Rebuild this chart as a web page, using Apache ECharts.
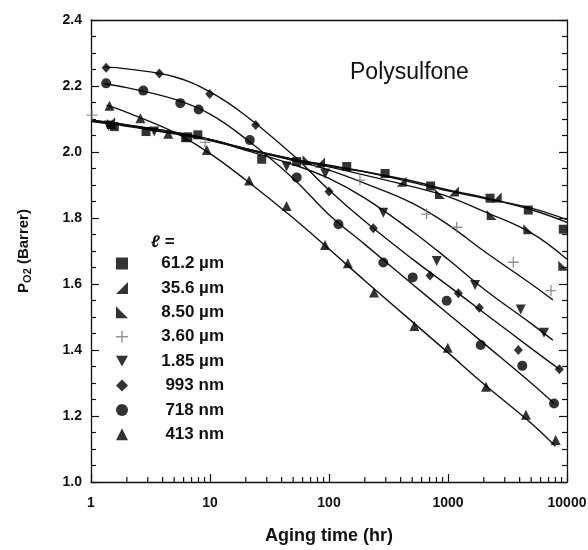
<!DOCTYPE html>
<html>
<head>
  <meta charset="UTF-8">
  <title>Polysulfone aging</title>
  <script src="https://cdn.jsdelivr.net/npm/echarts@6/dist/echarts.min.js"></script>
</head>
<body style="margin:0;background:#fff;">
<div id="main" style="width:588px;height:550px;"></div>
<script type="text/javascript">
  // 图例名称
  var names = ['61.2 µm', '35.6 µm', '8.50 µm', '3.60 µm', '1.85 µm', '993 nm', '718 nm', '413 nm'];

  // 实验点 [时间(hr), P_O2]
  var pts612 = [[1.57,2.077],[2.9,2.062],[6.5,2.046],[7.9,2.052],[27.2,1.978],[53.5,1.971],[141,1.956],[296,1.935],[715,1.897],[2255,1.860],[4730,1.824],[9310,1.766]];
  var pts356 = [[1.45,2.09],[84,1.968],[408,1.910],[1122,1.880],[2566,1.862]];
  var pts850 = [[1.5,2.085],[6.3,2.045],[66,1.975],[857,1.873],[2330,1.809],[4730,1.766],[9310,1.655]];
  var pts360 = [[1.02,2.112],[9.1,2.029],[182,1.915],[661,1.812],[1183,1.772],[3540,1.666],[7340,1.580]];
  var pts185 = [[1.4,2.08],[3.4,2.062],[44,1.956],[93,1.935],[286,1.816],[804,1.670],[1686,1.597],[4080,1.523],[6410,1.452]];
  var pts993 = [[1.34,2.255],[3.75,2.238],[9.94,2.176],[24.2,2.082],[100,1.880],[236,1.769],[706,1.626],[1222,1.572],[1832,1.528],[3900,1.400],[8620,1.342]];
  var pts718 = [[1.34,2.208],[2.75,2.186],[5.63,2.148],[8.03,2.129],[21.6,2.036],[53.5,1.923],[120,1.781],[286,1.665],[505,1.620],[975,1.549],[1883,1.415],[4210,1.352],[7780,1.238]];
  var pts413 = [[1.43,2.14],[2.6,2.102],[4.46,2.055],[9.4,2.006],[21.3,1.914],[44,1.836],[92.6,1.718],[144,1.663],[239,1.574],[521,1.473],[995,1.407],[2085,1.289],[4520,1.204],[8035,1.127]];

  // 拟合曲线
  var fit612 = [[1,2.092],[2,2.078],[5,2.055],[10,2.035],[20,2.008],[50,1.975],[100,1.957],[200,1.94],[500,1.912],[1000,1.885],[2000,1.862],[5000,1.825],[10000,1.787]];
  var fit356 = [[1,2.095],[2,2.08],[5,2.058],[10,2.037],[20,2.01],[50,1.978],[100,1.96],[200,1.94],[500,1.908],[1000,1.882],[2000,1.86],[5000,1.83],[10000,1.795]];
  var fit850 = [[1,2.095],[2,2.08],[5,2.058],[10,2.037],[20,2.01],[50,1.978],[100,1.955],[200,1.93],[500,1.895],[1000,1.865],[2000,1.82],[5000,1.755],[10000,1.675]];
  var fit360 = [[1,2.097],[2,2.082],[5,2.06],[10,2.038],[20,2.01],[50,1.975],[100,1.945],[200,1.905],[500,1.845],[1000,1.78],[2000,1.70],[5000,1.60],[7600,1.552]];
  var fit185 = [[1,2.097],[2,2.082],[5,2.06],[10,2.038],[20,2.005],[50,1.962],[100,1.92],[200,1.86],[500,1.76],[1000,1.675],[2000,1.585],[5000,1.48],[7600,1.43]];
  var fit993 = [[1.3,2.258],[2,2.252],[5,2.228],[10,2.182],[20,2.11],[50,1.99],[100,1.885],[200,1.79],[500,1.676],[1000,1.595],[2000,1.513],[5000,1.405],[8600,1.342]];
  var fit718 = [[1.3,2.207],[2,2.195],[5,2.16],[10,2.115],[20,2.04],[50,1.92],[100,1.81],[200,1.72],[500,1.60],[1000,1.51],[2000,1.42],[5000,1.30],[7780,1.238]];
  var fit413 = [[1.35,2.142],[2,2.12],[5,2.06],[10,1.995],[20,1.915],[50,1.80],[100,1.706],[200,1.61],[500,1.486],[1000,1.392],[2000,1.297],[5000,1.178],[8000,1.108]];

  // x 轴对数小刻度
  var xMinorTicks = [2,3,4,5,6,7,8,9,20,30,40,50,60,70,80,90,200,300,400,500,600,700,800,900,2000,3000,4000,5000,6000,7000,8000,9000];

  var allPts = [pts612, pts356, pts850, pts360, pts185, pts993, pts718, pts413];
  var allFits = [fit612, fit356, fit850, fit360, fit185, fit993, fit718, fit413];

  var symbols = [
    'rect',
    'path://M10,0 L10,10 L0,10 Z',
    'path://M0,0 L0,10 L10,10 Z',
    'path://M4.4,0 L5.6,0 L5.6,4.4 L10,4.4 L10,5.6 L5.6,5.6 L5.6,10 L4.4,10 L4.4,5.6 L0,5.6 L0,4.4 L4.4,4.4 Z',
    'path://M0,0 L10,0 L5,9 Z',
    'diamond',
    'circle',
    'triangle'
  ];
  var sizes = [9, 10, 10, 11, 10, [9, 10], 10, 10];
  var colors = ['#000', '#000', '#000', '#777', '#000', '#000', '#000', '#000'];

  var font = 'Liberation Sans, Arial, sans-serif';

  var series = [];
  for (var i = 0; i < 8; i++) {
    series.push({
      name: names[i] + '_fit',
      type: 'line',
      data: allFits[i],
      smooth: 0.4,
      showSymbol: false,
      silent: true,
      lineStyle: { color: '#111', width: 1.4 },
      z: 2
    });
    series.push({
      name: names[i],
      type: 'scatter',
      data: allPts[i],
      symbol: symbols[i],
      symbolSize: sizes[i],
      itemStyle: { color: colors[i] },
      z: 3
    });
  }

  // 对数轴小刻度用 custom 画
  series.push({
    type: 'custom',
    name: 'minorTicks',
    silent: true,
    clip: false,
    xAxisIndex: 0,
    yAxisIndex: 0,
    data: xMinorTicks.map(function (t) { return [t, 1.0]; }),
    renderItem: function (params, api) {
      var p = api.coord([api.value(0), api.value(1)]);
      return {
        type: 'line',
        shape: { x1: p[0], y1: p[1], x2: p[0], y2: p[1] - 5 },
        style: { stroke: '#111', lineWidth: 1.2, fill: null }
      };
    },
    z: 4
  });

  var myChart = echarts.init(document.getElementById('main'));
  var option = {
    animation: false,
    title: [{
      text: 'Polysulfone',
      left: 345,
      top: 56,
      textStyle: { fontFamily: font, fontSize: 23, fontWeight: 'normal', color: '#111' }
    }, {
      text: 'ℓ =',
      left: 146,
      top: 229,
      textStyle: { fontFamily: font, fontSize: 17, fontWeight: 'bold', fontStyle: 'italic', color: '#111' }
    }],
    legend: {
      data: names,
      orient: 'vertical',
      left: 111,
      top: 250,
      itemWidth: 12,
      itemHeight: 12,
      itemGap: 7.4,
      selectedMode: false,
      formatter: function (n) { return '{a|' + n + '}'; },
      textStyle: {
        rich: {
          a: { width: 91, align: 'right', fontFamily: font, fontSize: 17, fontWeight: 'bold', color: '#111' }
        }
      }
    },
    grid: { left: 91, right: 21, top: 20, bottom: 68, outerBoundsMode: 'none' },
    xAxis: [{
      type: 'log',
      logBase: 10,
      min: 1,
      max: 10000,
      name: 'Aging time (hr)',
      nameLocation: 'middle',
      nameGap: 45,
      nameTextStyle: { fontFamily: font, fontSize: 18, fontWeight: 'bold', color: '#111' },
      axisLine: { show: true, lineStyle: { color: '#111', width: 1.3 } },
      axisTick: { show: true, inside: true, length: 8, lineStyle: { color: '#111', width: 1.2 } },
      axisLabel: {
        fontFamily: font, fontSize: 14, fontWeight: 'bold', color: '#111', margin: 14,
        formatter: function (v) { return String(Math.round(v)); }
      },
      splitLine: { show: false }
    }, {
      type: 'log',
      logBase: 10,
      min: 1,
      max: 10000,
      position: 'top',
      axisLine: { show: true, lineStyle: { color: '#111', width: 1.3 } },
      axisTick: { show: false },
      axisLabel: { show: false },
      splitLine: { show: false }
    }],
    yAxis: [{
      type: 'value',
      min: 1.0,
      max: 2.4,
      interval: 0.2,
      name: '{p|P}{s|O2}{p| (Barrer)}',
      nameLocation: 'middle',
      nameGap: 58,
      nameRotate: 90,
      nameTextStyle: {
        rich: {
          p: { fontFamily: font, fontSize: 15, fontWeight: 'bold', color: '#111' },
          s: { fontFamily: font, fontSize: 11, fontWeight: 'bold', color: '#111', padding: [8, 0, 0, 0] }
        }
      },
      axisLine: { show: true, lineStyle: { color: '#111', width: 1.3 } },
      axisTick: { show: true, inside: true, length: 8, lineStyle: { color: '#111', width: 1.2 } },
      minorTick: { show: true, splitNumber: 4, length: 5, lineStyle: { color: '#111', width: 1.2 } },
      axisLabel: {
        fontFamily: font, fontSize: 14, fontWeight: 'bold', color: '#111', margin: 9,
        formatter: function (v) { return v.toFixed(1); }
      },
      splitLine: { show: false }
    }, {
      type: 'value',
      min: 1.0,
      max: 2.4,
      interval: 0.2,
      position: 'right',
      axisLine: { show: true, lineStyle: { color: '#111', width: 1.3 } },
      axisTick: { show: true, inside: true, length: 8, lineStyle: { color: '#111', width: 1.2 } },
      minorTick: { show: true, splitNumber: 4, length: 5, lineStyle: { color: '#111', width: 1.2 } },
      axisLabel: { show: false },
      splitLine: { show: false }
    }],
    series: series
  };
  myChart.setOption(option);
</script>
</body>
</html>
